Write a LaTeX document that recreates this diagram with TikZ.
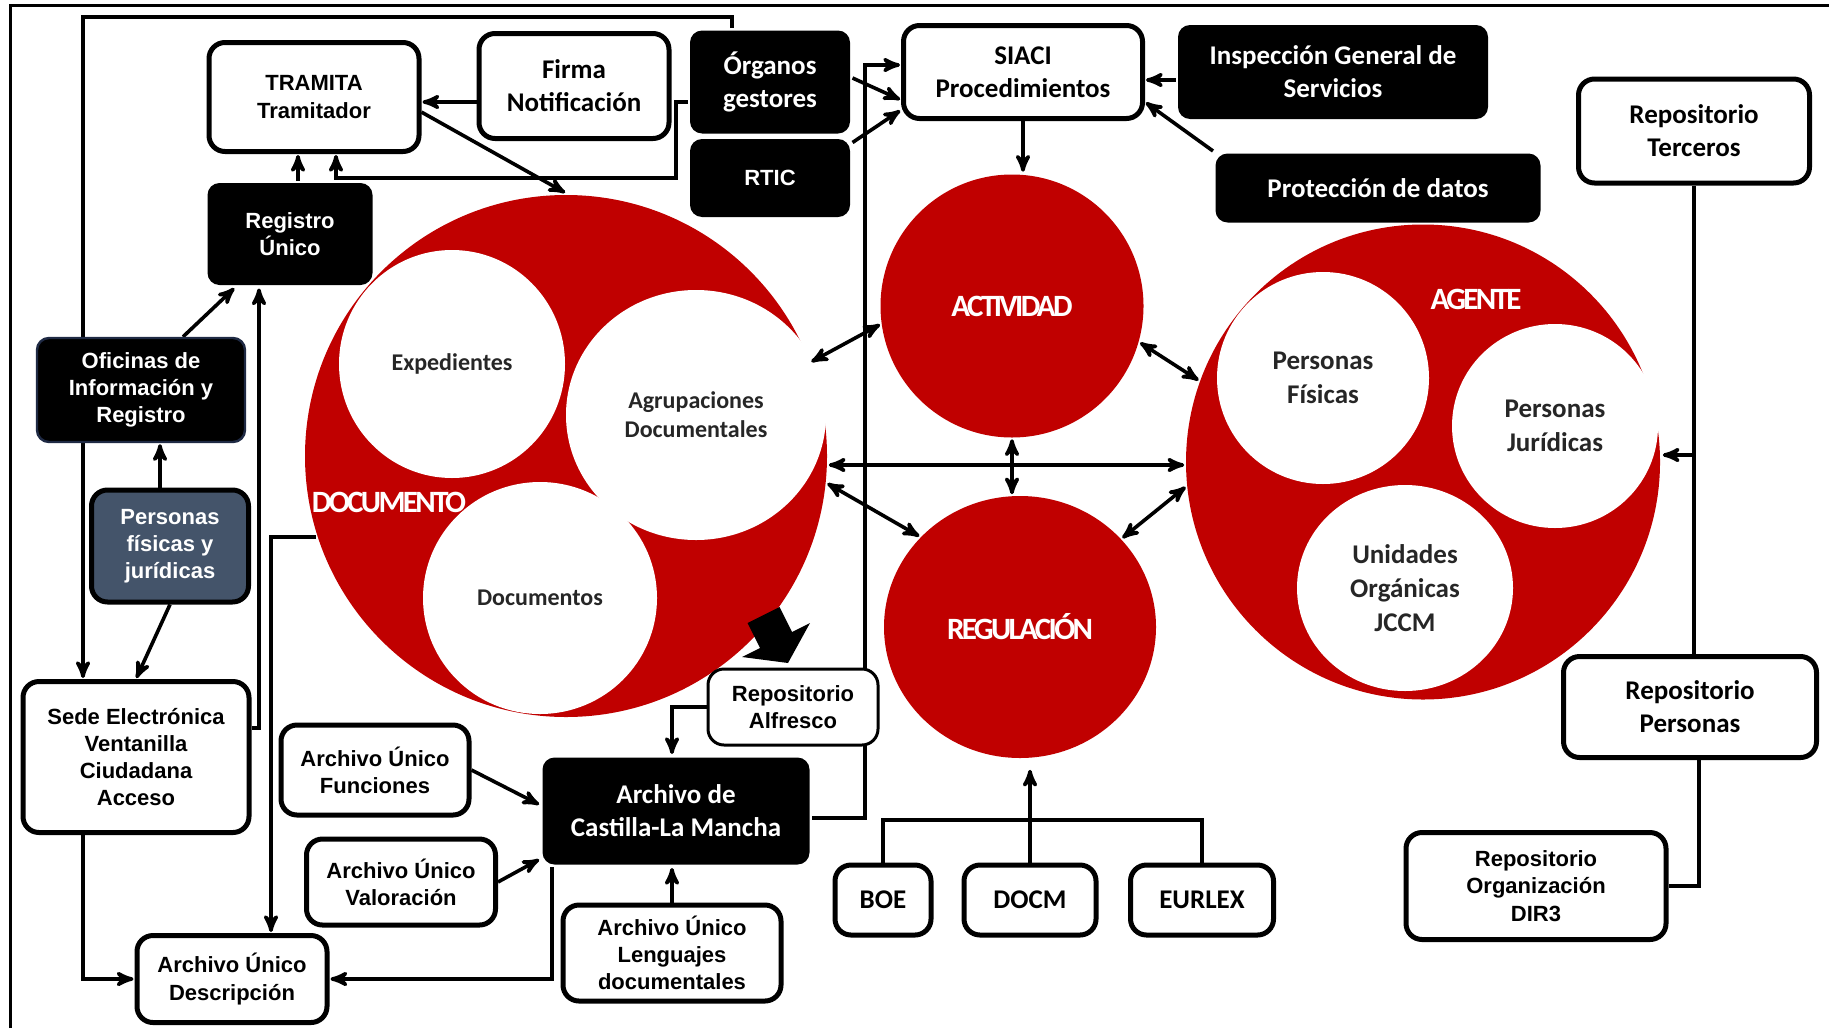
\documentclass[tikz,border=0pt]{standalone}
\usepackage{fontspec}
\setmainfont{Liberation Sans}
\newfontfamily\afont{Liberation Sans}
\newfontfamily\cfont{Carlito}
\newfontfamily\ctight{Carlito}[LetterSpace=-8.5]
\usetikzlibrary{
  arrows,
  shapes.geometric,
  positioning,
  scopes,
  backgrounds
}
\definecolor{docred}{RGB}{192,0,0}
\definecolor{slate}{RGB}{68,84,106}
\definecolor{navyline}{RGB}{31,42,68}

\begin{document}
\begin{tikzpicture}[
      x=0.5pt, y=-0.5pt,
      box/.style={
         rectangle,
         rounded corners=8pt,
         line width=2.5pt,
         draw=black,
         fill=white,
         align=center,
         inner sep=0pt,
      },
      blackbox/.style={
         box,
         rounded corners=6pt,
         draw=none,
         fill=black,
         text=white,
      },
      arial/.style={font=\afont\bfseries\fontsize{11}{13.6}\selectfont},
      calibri/.style={font=\cfont\bfseries\fontsize{13.5}{16.5}\selectfont},
      bigcircle/.style={ellipse, fill=docred, inner sep=0pt, align=center},
      subcircle/.style={
         ellipse,
         fill=white,
         inner sep=0pt,
         align=center,
         text=black!85,
         font=\cfont\bfseries\fontsize{13.5}{17}\selectfont
      },
      circlelabel/.style={text=white, font=\ctight\bfseries\fontsize{15.5}{18}\selectfont},
      >=stealth', line width=1.8pt,
      tip/.style={->,line width=1.8pt,shorten >=0.5pt},
      both/.style={<->},
      hv path/.style={to path={-| (\tikztotarget)}},
      vh path/.style={to path={|- (\tikztotarget)}},
    ]
    \useasboundingbox (0,0) rectangle (1829,1028);
    \draw[line width=1.5pt] (10,1028) -- (10,5) -- (1829,5);

    % circles
    \node (documento) [bigcircle, minimum width=261pt, minimum height=261pt] at (566,456) {};
    \node (expedientes) [subcircle, minimum width=113pt, minimum height=114pt,
       font=\cfont\bfseries\fontsize{12}{14.5}\selectfont] at (452,364) {Expedientes};
    \node (agrupaciones) [subcircle, minimum width=130pt, minimum height=125pt,
       font=\cfont\bfseries\fontsize{12}{14.5}\selectfont] at (696,415) {Agrupaciones\\Documentales};
    \node (documentos) [subcircle, minimum width=117pt, minimum height=116pt,
       font=\cfont\bfseries\fontsize{12}{14.5}\selectfont] at (540,598) {Documentos};
    \node (doclabel) [circlelabel] at (389,502) {DOCUMENTO};

    \node (activ) [bigcircle, minimum width=131.5pt, minimum height=131.5pt, circlelabel] at (1012,306) {ACTIVIDAD};
    \node (regul) [bigcircle, minimum width=136pt, minimum height=131pt, circlelabel] at (1020,627) {REGULACIÓN};

    \node (agente) [bigcircle, minimum width=237pt, minimum height=237.5pt] at (1423,462) {};
    \node (fisicas) [subcircle, minimum width=106pt, minimum height=106pt] at (1323,378) {Personas\\Físicas};
    \node (juridicas) [subcircle, minimum width=103pt, minimum height=102pt] at (1555,426) {Personas\\Jurídicas};
    \node (unidades) [subcircle, minimum width=108pt, minimum height=103pt] at (1405,588) {Unidades\\Orgánicas\\JCCM};
    \node (agentelabel) [circlelabel] at (1476,299) {AGENTE};

    % big arrow to Alfresco
    \fill (747.5,623) -- (779.5,607) -- (792,632) -- (810,623) -- (788,663) -- (742,657) -- (760,648) -- cycle;

    % boxes (named, placed at coordinates)
    \coordinate (c-tram) at (314,97);
    \coordinate (c-firma) at (574,86);
    \coordinate (c-organos) at (770,82);
    \coordinate (c-rtic) at (770,178);
    \coordinate (c-siaci) at (1023,72);
    \coordinate (c-inspec) at (1333,72);
    \coordinate (c-protec) at (1378,188);
    \coordinate (c-reptercer) at (1694,131);
    \coordinate (c-registro) at (290,234);
    \coordinate (c-oficinas) at (141,390);
    \coordinate (c-personas) at (170,546);
    \coordinate (c-sede) at (136,757);
    \coordinate (c-descrip) at (232,979);
    \coordinate (c-funciones) at (375,770);
    \coordinate (c-valorac) at (401,882);
    \coordinate (c-archivo) at (676,811);
    \coordinate (c-lenguajes) at (672,953);
    \coordinate (c-alfresco) at (793,707);
    \coordinate (c-boe) at (883,900);
    \coordinate (c-docm) at (1030,900);
    \coordinate (c-eurlex) at (1202,900);
    \coordinate (c-reppers) at (1690,707);
    \coordinate (c-dir3) at (1536,886);

    \path (c-tram) node (tram) [box, arial, minimum width=105pt, minimum height=54.5pt] {TRAMITA\\Tramitador};
    \path (c-firma) node (firma) [box, calibri, minimum width=95pt, minimum height=52.5pt] {Firma\\Notificación};
    \path (c-organos) node (organos) [blackbox, calibri, minimum width=80pt, minimum height=51.5pt] {Órganos\\gestores};
    \path (c-rtic) node (rtic) [blackbox, arial, minimum width=80pt, minimum height=39pt] {RTIC};
    \path (c-siaci) node (siaci) [box, calibri, minimum width=119.5pt, minimum height=46.5pt] {SIACI\\Procedimientos};
    \path (c-inspec) node (inspec) [blackbox, calibri, minimum width=155pt, minimum height=47pt] {Inspección General de\\Servicios};
    \path (c-protec) node (protec) [blackbox, calibri, minimum width=162.5pt, minimum height=34.5pt] {Protección de datos};
    \path (c-reptercer) node (reptercer) [box, calibri, minimum width=115.5pt, minimum height=52pt] {Repositorio\\Terceros};
    \path (c-registro) node (registro) [blackbox, arial, minimum width=82.5pt, minimum height=51pt] {Registro\\Único};
    \path (c-oficinas) node (oficinas) [blackbox, arial, draw=navyline, line width=1.2pt, minimum width=104pt, minimum height=52pt] {Oficinas de\\Información y\\Registro};
    \path (c-personas) node (personas) [box, arial, fill=slate, text=white, minimum width=78.5pt, minimum height=56pt] {Personas\\físicas y\\jurídicas};
    \path (c-sede) node (sede) [box, arial, minimum width=113pt, minimum height=75.5pt] {Sede Electrónica\\Ventanilla\\Ciudadana\\Acceso};
    \path (c-descrip) node (descrip) [box, arial, minimum width=95pt, minimum height=43.5pt] {Archivo Único\\Descripción};
    \path (c-funciones) node (funciones) [box, arial, minimum width=94pt, minimum height=45pt] {Archivo Único\\Funciones};
    \path (c-valorac) node (valorac) [box, arial, minimum width=94.5pt, minimum height=43pt] {Archivo Único\\Valoración};
    \path (c-archivo) node (archivo) [blackbox, calibri, minimum width=133.5pt, minimum height=53.5pt] {Archivo de\\Castilla-La Mancha};
    \path (c-lenguajes) node (lenguajes) [box, arial, minimum width=109pt, minimum height=48pt] {Archivo Único\\Lenguajes\\documentales};
    \path (c-alfresco) node (alfresco) [box, arial, line width=1.5pt, minimum width=85pt, minimum height=38pt] {Repositorio\\Alfresco};
    \path (c-boe) node (boe) [box, calibri, minimum width=48pt, minimum height=35pt] {BOE};
    \path (c-docm) node (docm) [box, calibri, minimum width=66pt, minimum height=35pt] {DOCM};
    \path (c-eurlex) node (eurlex) [box, calibri, minimum width=71.5pt, minimum height=35pt] {EURLEX};
    \path (c-reppers) node (reppers) [box, calibri, minimum width=126.5pt, minimum height=50.5pt] {Repositorio\\Personas};
    \path (c-dir3) node (dir3) [box, arial, minimum width=130pt, minimum height=53.5pt] {Repositorio\\Organización\\DIR3};

    % connectors, behind the boxes
    \begin{scope}[on background layer, line width=1.8pt, >=stealth']
    \draw[tip] (tram.-8) -- (documento.north);
    \draw[tip] ([yshift=-8pt]firma.west) -- ([yshift=-8pt]firma.west -| tram.east);
    \draw[tip] ([yshift=-10pt]organos.west) -| (676,178) -| ([xshift=11pt]tram.south);
    \draw[tip] ([xshift=4pt]registro.north) -- ([xshift=4pt]registro.north |- tram.south);
    \draw[tip] ([xshift=-19pt]organos.north) |- ([xshift=-26.5pt]sede.north |- 0,17) -- ([xshift=-26.5pt]sede.north);
    \draw[tip] ([xshift=21pt]oficinas.north) -- ([xshift=-27.5pt]registro.south);
    \draw[tip] ([xshift=-5pt]personas.north) -- ([xshift=-5pt]personas.north |- oficinas.south);
    \draw[tip] (personas.south) -- (sede.north);
    \draw[tip] ([yshift=14.5pt]sede.east) -| ([xshift=-15.5pt]registro.south);
    \draw[tip] (documento.198) -| ([xshift=19.5pt]descrip.north);
    \draw[tip] ([xshift=-26.5pt]sede.south) |- (descrip.west);
    \draw[tip] ([xshift=-62pt]archivo.south) |- (descrip.east);
    \draw[tip] (funciones.east) -- ([yshift=3pt]archivo.west);
    \draw[tip] (valorac.east) -- ([yshift=4pt]archivo.south west);
    \draw[tip] (lenguajes.north) -- (lenguajes.north |- archivo.south);
    \draw[tip] (alfresco.west) -| ([xshift=-2pt]archivo.north);
    \draw[tip] ([yshift=-3.5pt]archivo.east) -| (865,65) -- (865,65 -| siaci.west);
    \draw[tip] ([yshift=2pt]organos.east) -- ([yshift=-14pt]siaci.west);
    \draw[tip] ([yshift=-3pt]rtic.north east) -- ([yshift=-19pt]siaci.west);
    \draw[tip] ([yshift=-4pt]inspec.west) -- ([yshift=-4pt]inspec.west -| siaci.east);
    \draw[tip] (protec.north west) -- ([yshift=-15pt]siaci.east);
    \draw[tip] (siaci.south) -- (siaci.south |- activ.north);
    \end{scope}

    \draw[both] (documento.21) -- (activ.188);
    \draw[both] (activ.-16) -- (agente.160);
    \draw[both] (activ.south) -- (activ.south |- regul.north);
    \draw[both] ([yshift=-4.5pt]documento.east) -- ([yshift=-4.5pt]documento.east -| agente.west);
    \draw[both] (documento.-6) -- (regul.138);
    \draw[both] (regul.41) -- (agente.186);

    \draw (boe.north) |- (docm.north |- 0,820) -| (eurlex.north);
    \draw[tip] (docm.north) -- ([yshift=-4.5pt]docm.north |- regul.south);

    \draw (reptercer.south) -- (reptercer.south |- reppers.north);
    \coordinate (agentetap) at (reptercer.south |- 0,455);
    \draw[tip] (agentetap) -- (agentetap -| agente.east);
    \draw ([xshift=4.5pt]reppers.south) |- (dir3.east);
\end{tikzpicture}
\end{document}
